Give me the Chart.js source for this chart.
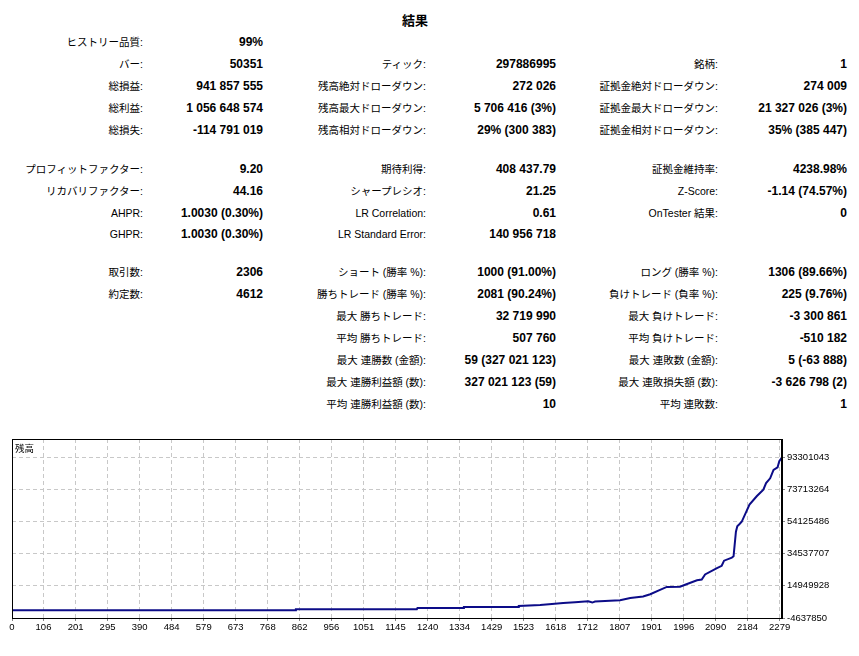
<!DOCTYPE html>
<html>
<head>
<meta charset="utf-8">
<script src="https://cdn.jsdelivr.net/npm/chart.js@4.4.0/dist/chart.umd.min.js"></script>
<style>
body { margin: 0; background: #fff; width: 859px; height: 656px; overflow: hidden; position: relative;
       font-family: "Liberation Sans", "Noto Sans CJK JP", sans-serif; color: #000; }
.cell { position: absolute; white-space: nowrap; line-height: 14px; text-align: right; }
.lbl { font-size: 10.5px; }
.val { font-size: 12px; font-weight: bold; }
#title { position: absolute; left: 0; width: 830px; top: 10px; text-align: center; font-size: 13px; font-weight: bold; }
#chartLabel { position: absolute; left: 15px; top: 441px; font-size: 9.5px; font-family: "Noto Sans CJK JP", sans-serif; }
#graph { position: absolute; left: 0; top: 430px; }
</style>
</head>
<body>
<div id="title">結果</div>
<div id="report"></div>
<canvas id="graph" width="859" height="206" style="width:859px;height:206px"></canvas>
<div id="chartLabel">残高</div>
<script>
// Report rows: label, value, label, value, label, value
var reportRows = [
	['ヒストリー品質:', '99%', '', '', '', ''],
	['バー:', '50351', 'ティック:', '297886995', '銘柄:', '1'],
	['総損益:', '941 857 555', '残高絶対ドローダウン:', '272 026', '証拠金絶対ドローダウン:', '274 009'],
	['総利益:', '1 056 648 574', '残高最大ドローダウン:', '5 706 416 (3%)', '証拠金最大ドローダウン:', '21 327 026 (3%)'],
	['総損失:', '-114 791 019', '残高相対ドローダウン:', '29% (300 383)', '証拠金相対ドローダウン:', '35% (385 447)'],
	['プロフィットファクター:', '9.20', '期待利得:', '408 437.79', '証拠金維持率:', '4238.98%'],
	['リカバリファクター:', '44.16', 'シャープレシオ:', '21.25', 'Z-Score:', '-1.14 (74.57%)'],
	['AHPR:', '1.0030 (0.30%)', 'LR Correlation:', '0.61', 'OnTester 結果:', '0'],
	['GHPR:', '1.0030 (0.30%)', 'LR Standard Error:', '140 956 718', '', ''],
	['取引数:', '2306', 'ショート (勝率 %):', '1000 (91.00%)', 'ロング (勝率 %):', '1306 (89.66%)'],
	['約定数:', '4612', '勝ちトレード (勝率 %):', '2081 (90.24%)', '負けトレード (負率 %):', '225 (9.76%)'],
	['', '', '最大 勝ちトレード:', '32 719 990', '最大 負けトレード:', '-3 300 861'],
	['', '', '平均 勝ちトレード:', '507 760', '平均 負けトレード:', '-510 182'],
	['', '', '最大 連勝数 (金額):', '59 (327 021 123)', '最大 連敗数 (金額):', '5 (-63 888)'],
	['', '', '最大 連勝利益額 (数):', '327 021 123 (59)', '最大 連敗損失額 (数):', '-3 626 798 (2)'],
	['', '', '平均 連勝利益額 (数):', '10', '平均 連敗数:', '1']
];

// Balance curve (trade number, balance)
var tradeNo = [13, 849, 851, 1208, 1210, 1345, 1347, 1507, 1509, 1572,
               1607, 1640, 1675, 1714, 1726, 1734, 1808, 1838, 1876, 1897,
               1926, 1946, 1985, 2000, 2035, 2049, 2059, 2094, 2108, 2115,
               2138, 2143, 2150, 2154, 2160, 2167, 2182, 2190, 2212, 2231,
               2239, 2251, 2261, 2273, 2278, 2286];
var balance = [100000, 100000, 670000, 670000, 1470000, 1470000, 2080000, 2080000, 2690000, 3300000,
               3910000, 4520000, 4950000, 5560000, 4770000, 5380000, 6170000, 7570000, 8430000, 9830000,
               12460000, 14300000, 14400000, 15600000, 18400000, 18800000, 21900000, 25700000, 27200000, 30300000,
               32200000, 33000000, 48000000, 51300000, 52500000, 54000000, 60800000, 64500000, 69700000, 73600000,
               77600000, 80500000, 85600000, 87200000, 91000000, 93300000];

// Axis tick labels
var xTickLabels = [0, 106, 201, 295, 390, 484, 579, 673, 768, 862, 956, 1051, 1145,
                   1240, 1334, 1429, 1523, 1618, 1712, 1807, 1901, 1996, 2090, 2184, 2279];
var yTickLabels = [-4637850, 14949928, 34537707, 54125486, 73713264, 93301043];

var X_MIN = 13, X_MAX = 2286;
var Y_MIN = -4637850, Y_MAX = 104470000;

//Build the report text.
var rowTops = [42, 64, 86, 108, 130, 169, 191, 213, 234, 272, 294, 316, 338, 360, 382, 404];
var colRight = [143, 263, 426, 556, 718, 847];
var report = document.getElementById('report');
for (var i = 0; i < reportRows.length; ++i) {
	for (var j = 0; j < 6; ++j) {
		if (!reportRows[i][j]) continue;
		var d = document.createElement('div');
		d.className = 'cell ' + (j % 2 == 0 ? 'lbl' : 'val');
		d.style.right = (859 - colRight[j]) + 'px';
		d.style.top = (rowTops[i] - 7) + 'px';
		d.appendChild(document.createTextNode(reportRows[i][j]));
		report.appendChild(d);
	}
}

//Frame around the plot area.
var framePlugin = {
	id: 'frame',
	afterDatasetsDraw: function (chart) {
		var a = chart.chartArea, ctx = chart.ctx;
		ctx.save();
		ctx.strokeStyle = '#000';
		ctx.lineWidth = 1;
		ctx.strokeRect(a.left + 0.5, a.top + 0.5, a.right - a.left - 1, a.bottom - a.top);
		ctx.restore();
	}
};

var points = tradeNo.map(function (x, k) { return { x: x, y: balance[k] }; });
var tickFont = { family: 'Liberation Sans', size: 9.5 };

var chart = new Chart(document.getElementById('graph'), {
	type: 'line',
	data: {
		datasets: [{
			data: points,
			borderColor: '#0c0c88',
			borderWidth: 2,
			pointRadius: 0,
			tension: 0,
			fill: false
		}]
	},
	options: {
		responsive: false,
		animation: false,
		layout: { padding: { left: 12, top: 9, right: 0, bottom: 0 } },
		plugins: { legend: { display: false }, tooltip: { enabled: false } },
		scales: {
			x: {
				type: 'linear',
				min: X_MIN,
				max: X_MAX,
				afterBuildTicks: function (s) {
					s.ticks = xTickLabels.map(function (v) { return { value: Math.max(v, X_MIN), label: String(v) }; });
				},
				afterFit: function (s) { s.height = 18; },
				ticks: {
					autoSkip: false, maxRotation: 0, padding: 1, color: '#000', font: tickFont,
					callback: function (v, idx) { return String(xTickLabels[idx]); }
				},
				grid: { color: '#c8c8c8', tickColor: '#888', tickLength: 3 },
				border: { color: '#000', dash: [4, 3] }
			},
			y: {
				position: 'right',
				min: Y_MIN,
				max: Y_MAX,
				afterBuildTicks: function (s) {
					s.ticks = yTickLabels.map(function (v) { return { value: v }; });
				},
				afterFit: function (s) { s.width = 77; },
				ticks: {
					padding: 2, color: '#000', font: tickFont,
					callback: function (v) { return String(v); }
				},
				grid: { color: '#c8c8c8', tickColor: '#888', tickLength: 3 },
				border: { color: '#000', dash: [4, 3] }
			}
		}
	},
	plugins: [framePlugin]
});
</script>
</body>
</html>
